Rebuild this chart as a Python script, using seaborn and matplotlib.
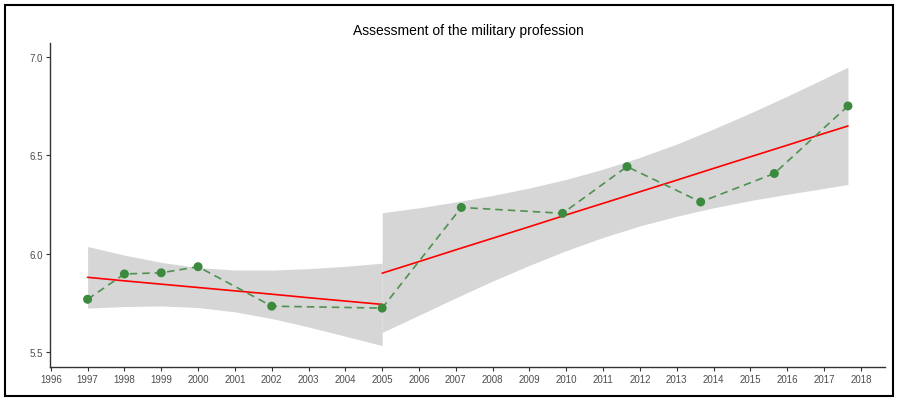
import matplotlib
matplotlib.use("Agg")
import numpy as np
import pandas as pd
import matplotlib.pyplot as plt
import seaborn as sns
from matplotlib.patches import Rectangle

# observed yearly scores
years = [1997, 1998, 1999, 2000, 2002, 2005, 2007.15, 2009.9, 2011.65, 2013.65, 2015.65, 2017.65]
scores = [5.767, 5.896, 5.902, 5.933, 5.732, 5.722, 6.235, 6.205, 6.443, 6.263, 6.408, 6.752]

# linear trend before 2005 (fit + 95% band)
trend1_x = [1997, 1998, 1999, 2000, 2001, 2002, 2003, 2004, 2005]
trend1_fit = [5.879, 5.861, 5.844, 5.827, 5.810, 5.793, 5.775, 5.758, 5.741]
trend1_low = [5.722, 5.730, 5.733, 5.725, 5.703, 5.669, 5.626, 5.579, 5.531]
trend1_high = [6.036, 5.992, 5.955, 5.929, 5.916, 5.916, 5.923, 5.935, 5.951]

# linear trend after 2005
trend2_x = [2005, 2006, 2007, 2008, 2009, 2010, 2011, 2012, 2013, 2014, 2015, 2016, 2017, 2017.65]
trend2_fit = [5.900, 5.959, 6.019, 6.078, 6.137, 6.197, 6.256, 6.315, 6.374, 6.434, 6.493, 6.552, 6.612, 6.650]
trend2_low = [5.598, 5.686, 5.774, 5.860, 5.940, 6.015, 6.082, 6.141, 6.190, 6.233, 6.270, 6.302, 6.332, 6.352]
trend2_high = [6.208, 6.233, 6.263, 6.296, 6.334, 6.378, 6.430, 6.490, 6.558, 6.635, 6.716, 6.802, 6.891, 6.950]

year_ticks = list(range(1996, 2019))
score_ticks = [5.5, 6.0, 6.5, 7.0]

sns.set_style("white")
plt.rcParams['font.family'] = ['Liberation Sans', 'DejaVu Sans']

obs = pd.DataFrame({'year': years, 'score': scores})
t1 = pd.DataFrame({'year': trend1_x, 'fit': trend1_fit})
t2 = pd.DataFrame({'year': trend2_x, 'fit': trend2_fit})

fig = plt.figure(figsize=(8.98, 4.02), dpi=100)
ax = fig.add_axes([0.0557, 0.0846, 0.93, 0.806])

# confidence bands
ax.fill_between(trend1_x, trend1_low, trend1_high, color='#d6d6d6', linewidth=0, zorder=1)
ax.fill_between(trend2_x, trend2_low, trend2_high, color='#d6d6d6', linewidth=0, zorder=1)

# trend lines
sns.lineplot(data=t1, x='year', y='fit', color='red', linewidth=1.2, ax=ax, zorder=2)
sns.lineplot(data=t2, x='year', y='fit', color='red', linewidth=1.2, ax=ax, zorder=2)

# observed values
sns.lineplot(data=obs, x='year', y='score', color='#4f9150', linewidth=1.2,
             estimator=None, sort=False, ax=ax, zorder=3)
ax.lines[-1].set_dashes((4.5, 3))
sns.scatterplot(data=obs, x='year', y='score', color='#3b8a3e', s=42,
                edgecolor='none', ax=ax, zorder=4)

ax.set_xlim(1995.98, 2018.66)
ax.set_ylim(5.422, 7.073)
ax.set_xticks(year_ticks)
ax.set_xticklabels([str(y) for y in year_ticks])
ax.set_yticks(score_ticks)
ax.set_yticklabels(['%.1f' % v for v in score_ticks])
ax.set_xlabel('')
ax.set_ylabel('')

for side in ['top', 'right']:
    ax.spines[side].set_visible(False)
for side in ['left', 'bottom']:
    ax.spines[side].set_color('#333333')
    ax.spines[side].set_linewidth(1.0)
ax.tick_params(axis='both', length=3, width=0.8, color='#333333',
               labelcolor='#4d4d4d', labelsize=7, pad=2, bottom=True, left=True)

fig.text(0.522, 0.923, 'Assessment of the military profession', ha='center',
         va='center', fontsize=10, color='black')

# outer frame of the image
fig.patches.append(Rectangle((0.006, 0.012), 0.988, 0.974, transform=fig.transFigure,
                             fill=False, edgecolor='black', linewidth=1.5))

fig.savefig('out.png', dpi=100)
